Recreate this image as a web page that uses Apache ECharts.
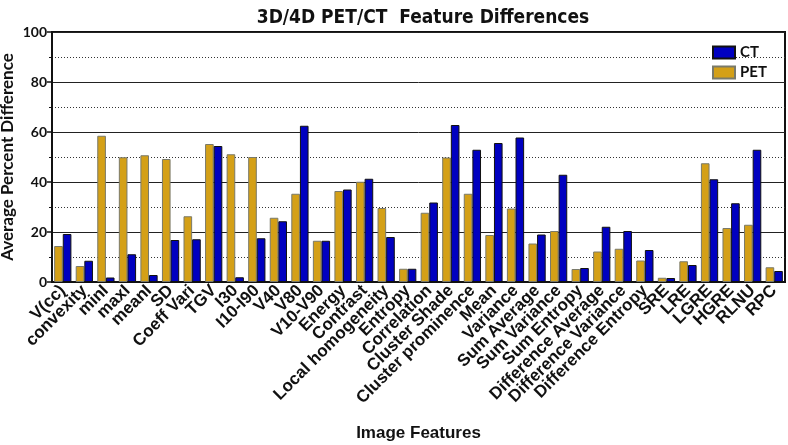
<!DOCTYPE html>
<html>
<head>
<meta charset="utf-8">
<script src="https://cdn.jsdelivr.net/npm/echarts@6/dist/echarts.min.js"></script>
<style>
  html, body { margin: 0; padding: 0; background: #fff; }
  #chart { width: 788px; height: 445px; }
</style>
</head>
<body>
<div id="chart"></div>
<script>
const features = [
  'V(cc)', 'convexity', 'minI', 'maxI', 'meanI', 'SD', 'Coeff Vari', 'TGV', 'I30', 'I10-I90',
  'V40', 'V80', 'V10-V90', 'Energy', 'Contrast', 'Local homogeneity', 'Entropy', 'Correlation',
  'Cluster Shade', 'Cluster prominence', 'Mean', 'Variance', 'Sum Average', 'Sum Variance',
  'Sum Entropy', 'Difference Average', 'Difference Variance', 'Difference Entropy',
  'SRE', 'LRE', 'LGRE', 'HGRE', 'RLNU', 'RPC'
];
const petValues = [
  14.4, 6.4, 58.5, 49.9, 50.7, 49.2, 26.3, 55.2, 51.1, 50.0,
  25.7, 35.3, 16.5, 36.4, 40.1, 29.6, 5.3, 27.7,
  49.8, 35.3, 18.8, 29.4, 15.4, 20.4,
  5.2, 12.2, 13.3, 8.6,
  1.7, 8.3, 47.5, 21.6, 22.9, 5.9
];
const ctValues = [
  19.2, 8.5, 1.8, 11.1, 2.8, 16.8, 17.1, 54.4, 1.9, 17.5,
  24.3, 62.5, 16.5, 37.0, 41.3, 18.0, 5.3, 31.8,
  62.8, 52.9, 55.6, 57.8, 19.0, 42.9,
  5.6, 22.1, 20.4, 12.8,
  1.6, 6.8, 41.1, 31.5, 52.9, 4.4
];
const yTicks = [0, 20, 40, 60, 80, 100];

const chart = echarts.init(document.getElementById('chart'));
chart.setOption({
  animation: false,
  title: {
    text: '3D/4D PET/CT  Feature Differences',
    left: 418,
    textAlign: 'center',
    top: 4,
    textStyle: { fontFamily: '"DejaVu Sans Condensed", "Liberation Sans"', fontWeight: 'bold', fontSize: 19, color: '#111' }
  },
  legend: {
    data: ['CT', 'PET'],
    orient: 'vertical',
    left: 707,
    top: 40,
    icon: 'rect',
    itemWidth: 22,
    itemHeight: 12,
    itemGap: 5,
    textStyle: { fontFamily: 'Lato', fontWeight: 'bold', fontSize: 15, color: '#111' }
  },
  grid: {
    left: 52, right: 3, top: 32, bottom: 163,
    outerBoundsMode: 'none',
    containLabel: false,
    show: true, borderColor: '#111', borderWidth: 2
  },
  xAxis: {
    type: 'category',
    data: features,
    name: 'Image Features',
    nameLocation: 'middle',
    nameGap: 143,
    nameTextStyle: { fontFamily: 'Liberation Sans', fontWeight: 'bold', fontSize: 17, color: '#111' },
    axisLine: { lineStyle: { color: '#111', width: 2 } },
    axisTick: { alignWithLabel: true, length: 5, lineStyle: { color: '#111', width: 1.5 } },
    axisLabel: {
      rotate: 45, interval: 0, margin: 6,
      fontFamily: 'Liberation Sans', fontWeight: 'bold', fontSize: 17, color: '#111'
    }
  },
  yAxis: {
    type: 'value',
    min: yTicks[0],
    max: yTicks[yTicks.length - 1],
    interval: 20,
    name: 'Average Percent Difference',
    nameLocation: 'middle',
    nameGap: 36,
    nameMoveOverlap: false,
    nameTextStyle: { fontFamily: 'Lato', fontWeight: 'bold', fontSize: 17, color: '#111' },
    axisLine: { show: true, lineStyle: { color: '#111', width: 2 } },
    axisTick: { show: true, length: 5, lineStyle: { color: '#111', width: 1.5 } },
    minorTick: { show: true, splitNumber: 2, length: 3, lineStyle: { color: '#111' } },
    axisLabel: { margin: 5, fontFamily: 'Lato', fontWeight: 'bold', fontSize: 14, color: '#111' },
    splitLine: { show: true, lineStyle: { color: '#222', width: 1 } },
    minorSplitLine: { show: true, lineStyle: { color: '#333', width: 1, type: [1, 2] } }
  },
  series: [
    {
      name: 'PET',
      type: 'bar',
      data: petValues,
      barGap: '0%',
      barCategoryGap: '20%',
      itemStyle: { color: '#D4A017', borderColor: '#7a7a6a', borderWidth: 1 }
    },
    {
      name: 'CT',
      type: 'bar',
      data: ctValues,
      barGap: '0%',
      barCategoryGap: '20%',
      itemStyle: { color: '#0000C0', borderColor: '#111', borderWidth: 1 }
    }
  ]
});
</script>
</body>
</html>
